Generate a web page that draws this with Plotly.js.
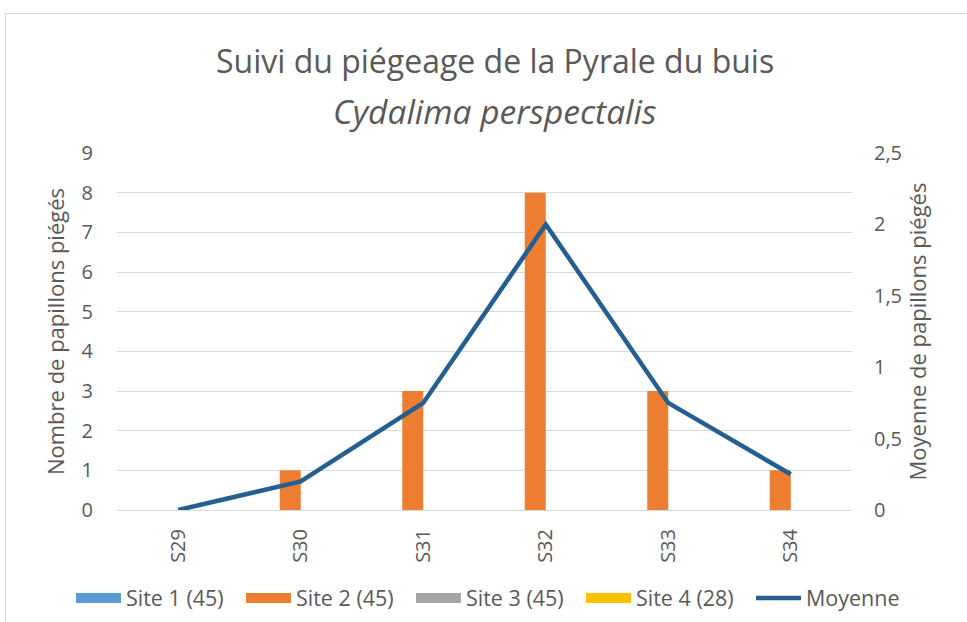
<!DOCTYPE html>
<html><head><meta charset="utf-8">
<script src="https://cdn.plot.ly/plotly-3.0.1.min.js"></script>
<style>
html,body{margin:0;padding:0;background:#fff}
#wrap{position:relative;width:967px;height:622px;overflow:hidden}
#chart{width:967px;height:622px}
#frame{position:absolute;left:5px;top:13px;width:1100px;height:800px;border:1px solid #d9d9d9;pointer-events:none}
</style>
</head><body>
<div id="wrap"><div id="chart"></div><div id="frame"></div></div>
<script>
const weeks = ['S29','S30','S31','S32','S33','S34'];
const site1 = [0,0,0,0,0,0];
const site2 = [0,1,3,8,3,1];
const site3 = [0,0,0,0,0,0];
const site4 = [0,0,0,0,0,0];
const moyenne = [0,0.2,0.75,2,0.75,0.25];
const seriesNames = ['Site 1 (45)','Site 2 (45)','Site 3 (45)','Site 4 (28)','Moyenne'];
const seriesColors = ['#5B9BD5','#ED7D31','#A5A5A5','#FFC000','#255E91'];
const leftTicks = [0,1,2,3,4,5,6,7,8,9];
const rightTicks = [0,0.5,1,1.5,2,2.5];
const titleLine1 = 'Suivi du piégeage de la Pyrale du buis';
const titleLine2 = 'Cydalima perspectalis';

const FONT = '"Open Sans", Lato, sans-serif';
const GREY = '#595959';
const siteData = [site1, site2, site3, site4];

const traces = [];
siteData.forEach((vals, i) => {
  traces.push({
    type: 'bar', x: weeks, y: vals, name: seriesNames[i],
    marker: {color: seriesColors[i]}, yaxis: 'y',
    legendgroup: 'g' + i, showlegend: false
  });
});
traces.push({
  type: 'scatter', mode: 'lines', x: weeks, y: moyenne, name: seriesNames[4],
  line: {color: seriesColors[4], width: 4.5}, yaxis: 'y2', showlegend: false,
  legendgroup: 'g4'
});
// legend entries (wide swatches like the original legend)
seriesNames.forEach((nm, i) => {
  traces.push({
    type: 'scatter', mode: 'lines', x: [null], y: [null], name: nm,
    legendgroup: 'g' + i, showlegend: true, hoverinfo: 'skip',
    line: {color: seriesColors[i], width: i < 4 ? 12 : 4.5}
  });
});

const layout = {
  width: 967, height: 622,
  margin: {l: 117, r: 115, t: 153, b: 112, pad: 0, autoexpand: false},
  paper_bgcolor: 'rgba(0,0,0,0)', plot_bgcolor: 'rgba(0,0,0,0)',
  separators: ', ',
  font: {family: FONT, color: GREY},
  barmode: 'group', bargap: 0.314, bargroupgap: 0,
  title: {
    text: titleLine1,
    xref: 'container', x: 0.512, xanchor: 'center',
    yref: 'container', y: 0.9, yanchor: 'middle',
    font: {family: FONT, size: 32, color: GREY}
  },
  annotations: [{
    text: '<i>' + titleLine2 + '</i>', showarrow: false,
    xref: 'paper', x: 0.514, xanchor: 'center',
    yref: 'paper', y: 1.119, yanchor: 'middle',
    font: {family: FONT, size: 33.5, color: GREY}
  }],
  xaxis: {
    type: 'category', tickangle: -90, showgrid: false, zeroline: false,
    showline: true, linecolor: '#d9d9d9', linewidth: 1,
    ticks: '', ticklabelstandoff: 10,
    tickfont: {family: FONT, size: 20, color: GREY}, automargin: false
  },
  yaxis: {
    range: [0, 9], tickvals: leftTicks, showgrid: true, gridcolor: '#d9d9d9', gridwidth: 1,
    zeroline: false, showline: false, ticks: '', ticklabelstandoff: 23,
    tickfont: {family: FONT, size: 20, color: GREY}, automargin: false,
    title: {text: 'Nombre de papillons piégés', standoff: 10,
            font: {family: FONT, size: 22, color: GREY}}
  },
  yaxis2: {
    range: [0, 2.5], tickvals: rightTicks, overlaying: 'y', side: 'right',
    showgrid: false, zeroline: false, showline: false, ticks: '', ticklabelstandoff: 21,
    tickfont: {family: FONT, size: 20, color: GREY}, automargin: false,
    title: {text: 'Moyenne de papillons piégés', standoff: 6,
            font: {family: FONT, size: 22, color: GREY}}
  },
  showlegend: true,
  legend: {
    orientation: 'h', xref: 'paper', x: -0.0626, xanchor: 'left',
    yref: 'paper', y: -0.2465, yanchor: 'middle',
    font: {family: FONT, size: 21.5, color: GREY},
    itemwidth: 45, entrywidth: 110, entrywidthmode: 'pixels',
    traceorder: 'normal', bgcolor: 'rgba(0,0,0,0)'
  }
};

Plotly.newPlot('chart', traces, layout, {staticPlot: true, displayModeBar: false});
</script>
</body></html>
